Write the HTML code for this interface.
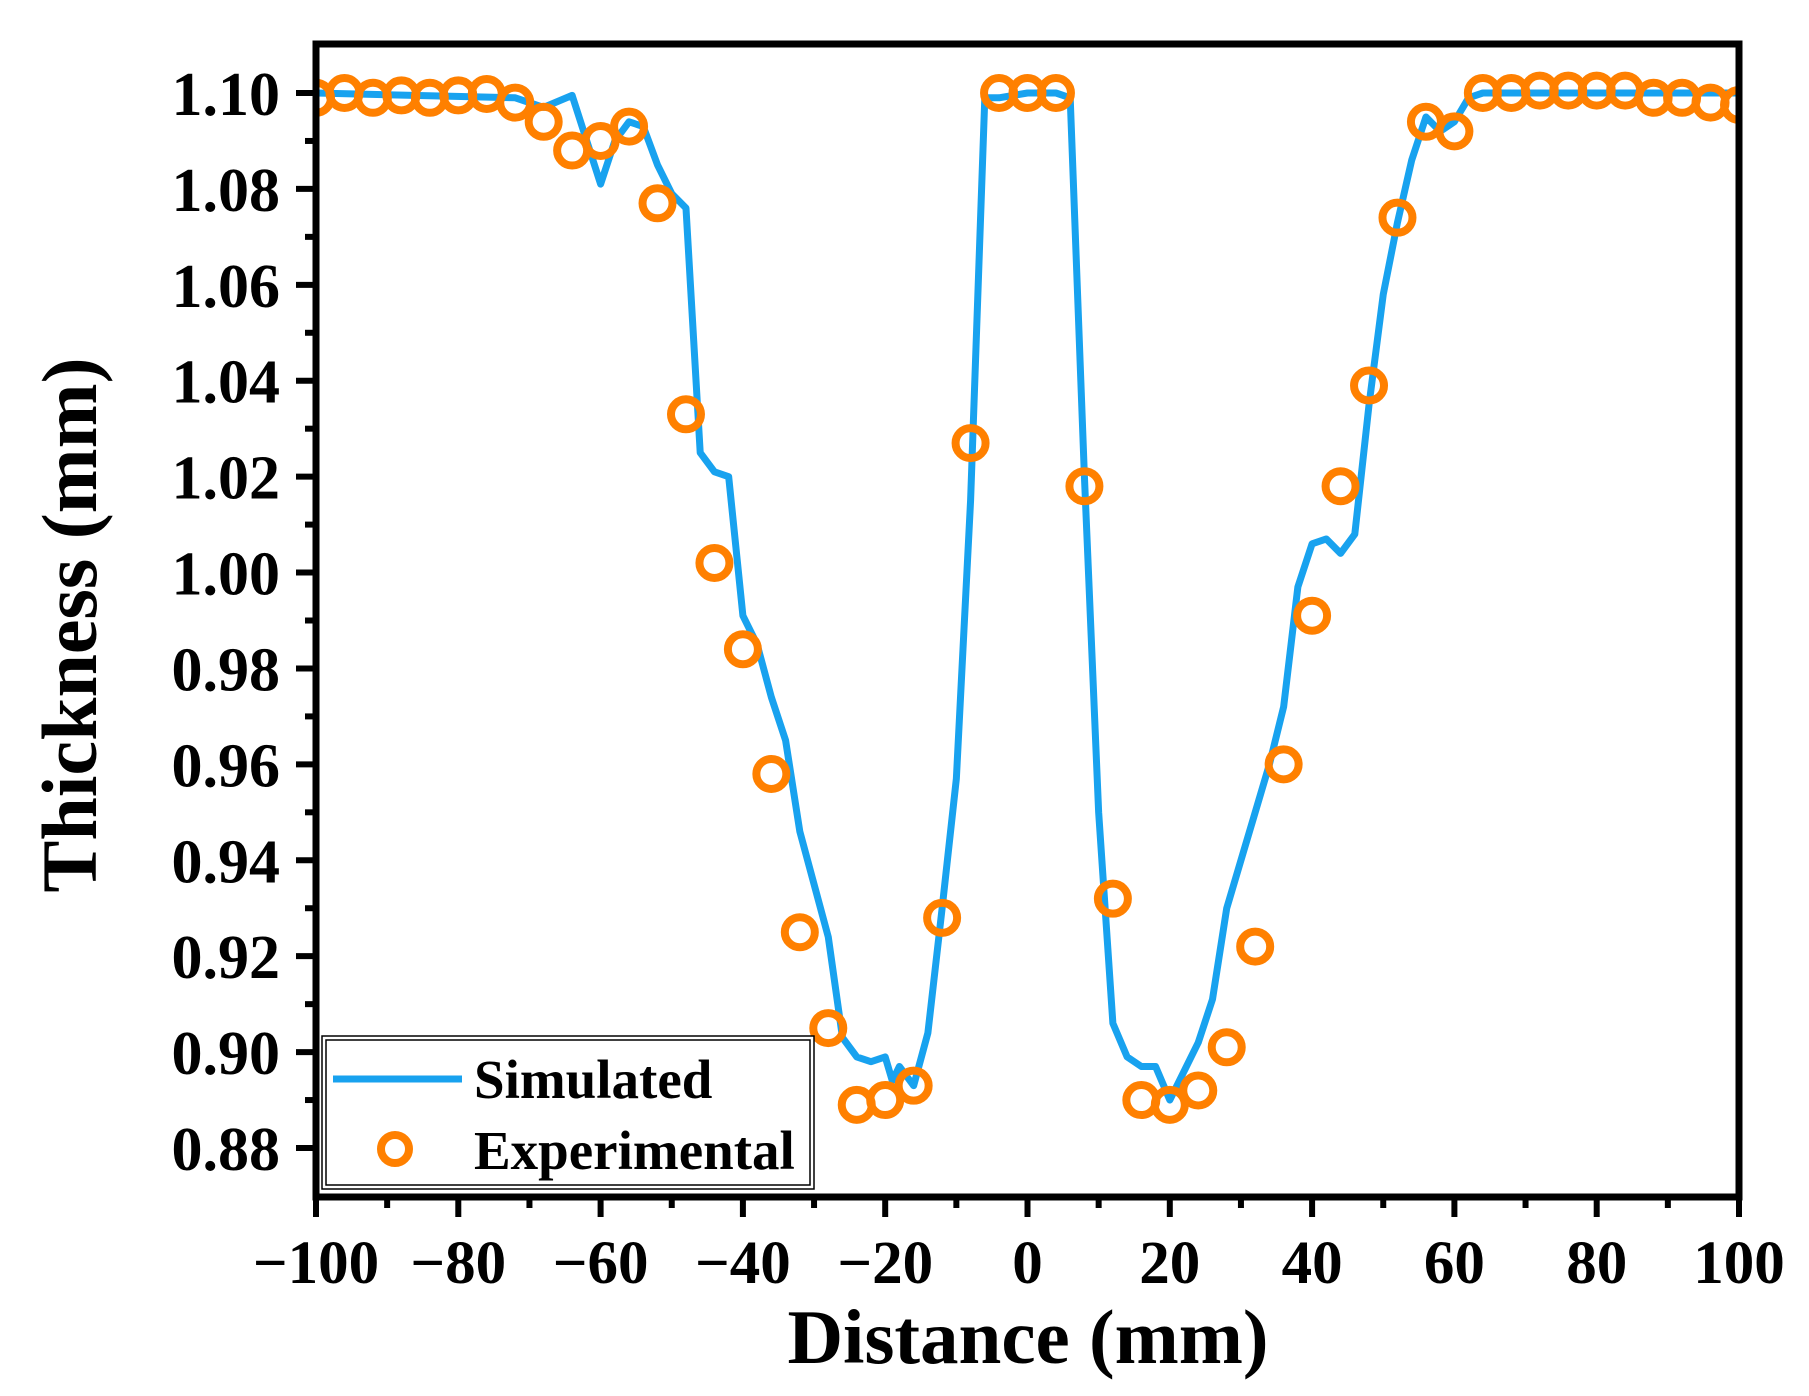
<!DOCTYPE html>
<html><head><meta charset="utf-8"><style>
html,body{margin:0;padding:0;background:#fff;width:1809px;height:1396px;overflow:hidden}
svg text{font-family:"Liberation Serif",serif;font-weight:bold;fill:#000}
</style></head><body>
<svg id="chart" width="1809" height="1396" viewBox="0 0 1809 1396" xmlns="http://www.w3.org/2000/svg">
<defs><clipPath id="pc"><rect x="316" y="44" width="1423" height="1153"/></clipPath></defs>
<g id="marks" clip-path="url(#pc)"></g>
<g id="axes"></g>
<text x="1028" y="1363" font-size="77" text-anchor="middle">Distance (mm)</text>
<text transform="translate(96,625) rotate(-90)" font-size="78" text-anchor="middle">Thickness (mm)</text>
<g>
<rect x="322" y="1036" width="492" height="153" fill="#fff" stroke="#000" stroke-width="1.5"/>
<rect x="326" y="1040" width="484" height="145" fill="#fff" stroke="#000" stroke-width="1.5"/>
<line x1="333" y1="1079" x2="462" y2="1079" stroke="#18a2ef" stroke-width="7"/>
<text x="474" y="1098" font-size="55">Simulated</text>
<circle cx="395" cy="1149" r="14" fill="none" stroke="#ff8000" stroke-width="8"/>
<text x="474" y="1169" font-size="55">Experimental</text>
</g>
</svg>
<script>
const expX=[-100,-96,-92,-88,-84,-80,-76,-72,-68,-64,-60,-56,-52,-48,-44,-40,-36,-32,-28,-24,-20,-16,-12,-8,-4,0,4,8,12,16,20,24,28,32,36,40,44,48,52,56,60,64,68,72,76,80,84,88,92,96,100];
const expY=[1.099,1.100,1.099,1.0995,1.099,1.0995,1.0998,1.098,1.094,1.088,1.090,1.093,1.077,1.033,1.002,0.984,0.958,0.925,0.905,0.889,0.890,0.893,0.928,1.027,1.100,1.100,1.100,1.018,0.932,0.890,0.889,0.892,0.901,0.922,0.960,0.991,1.018,1.039,1.074,1.094,1.092,1.100,1.100,1.1005,1.1005,1.1005,1.1005,1.099,1.099,1.098,1.0975];
const simX=[-100,-72,-68,-64,-60,-58,-56,-54,-52,-50,-48,-46,-44,-42,-40,-38,-36,-34,-32,-30,-28,-26,-24,-22,-20,-19,-18,-17,-16,-14,-12,-10,-8,-6,-4,0,4,6,8,10,12,14,16,18,20,22,24,26,28,30,32,34,36,38,40,42,44,46,48,50,52,54,56,58,60,62,64,100];
const simY=[1.100,1.099,1.097,1.0995,1.081,1.090,1.094,1.093,1.085,1.079,1.076,1.025,1.021,1.020,0.991,0.985,0.974,0.965,0.946,0.935,0.924,0.903,0.899,0.898,0.899,0.894,0.897,0.895,0.893,0.904,0.930,0.957,1.015,1.099,1.099,1.100,1.100,1.099,1.020,0.950,0.906,0.899,0.897,0.897,0.890,0.896,0.902,0.911,0.930,0.940,0.950,0.960,0.972,0.997,1.006,1.007,1.004,1.008,1.035,1.058,1.073,1.086,1.095,1.092,1.094,1.099,1.100,1.100];
const xTicks=[-100,-80,-60,-40,-20,0,20,40,60,80,100];
const xTickLabels=["\u2212100","\u221280","\u221260","\u221240","\u221220","0","20","40","60","80","100"];
const yTicks=[0.88,0.90,0.92,0.94,0.96,0.98,1.00,1.02,1.04,1.06,1.08,1.10];
const yTickLabels=["0.88","0.90","0.92","0.94","0.96","0.98","1.00","1.02","1.04","1.06","1.08","1.10"];
const L=316,R=1739,T=44,B=1197;
const xs=v=>L+(v+100)/200*(R-L);
const ys=v=>1148-(v-0.88)/0.22*(1148-93);
const NS="http://www.w3.org/2000/svg";
function mk(tag,attrs,parent){const e=document.createElementNS(NS,tag);for(const k in attrs)e.setAttribute(k,attrs[k]);parent.appendChild(e);return e;}
const marks=document.getElementById('marks'),axes=document.getElementById('axes');
const line=mk('polyline',{points:simX.map((x,i)=>xs(x)+','+ys(simY[i])).join(' '),fill:'none',stroke:'#18a2ef','stroke-width':7,'stroke-linejoin':'round'},marks);


expX.forEach((x,i)=>{const c=mk('circle',{cx:xs(x),cy:ys(expY[i]),r:15,fill:'none',stroke:'#ff8000','stroke-width':8},marks);

});
const frame=mk('rect',{x:L,y:T,width:R-L,height:B-T,fill:'none',stroke:'#000','stroke-width':7},axes);


xTicks.forEach((v,i)=>{const x=xs(v);
mk('line',{x1:x,y1:B,x2:x,y2:B+20,stroke:'#000','stroke-width':6},axes);
if(i<xTicks.length-1){const m=xs(v+10);mk('line',{x1:m,y1:B,x2:m,y2:B+11,stroke:'#000','stroke-width':6},axes);}
const t=mk('text',{x:x,y:1283,'font-size':61,'text-anchor':'middle'},axes);t.textContent=xTickLabels[i];

});
yTicks.forEach((v,i)=>{const y=ys(v);
mk('line',{x1:L,y1:y,x2:L-20,y2:y,stroke:'#000','stroke-width':6},axes);
const m=ys(v+0.01);if(m>T+5)mk('line',{x1:L,y1:m,x2:L-11,y2:m,stroke:'#000','stroke-width':6},axes);
const t=mk('text',{x:280,y:y+22,'font-size':62,'text-anchor':'end'},axes);t.textContent=yTickLabels[i];

});
</script>
</body></html>
